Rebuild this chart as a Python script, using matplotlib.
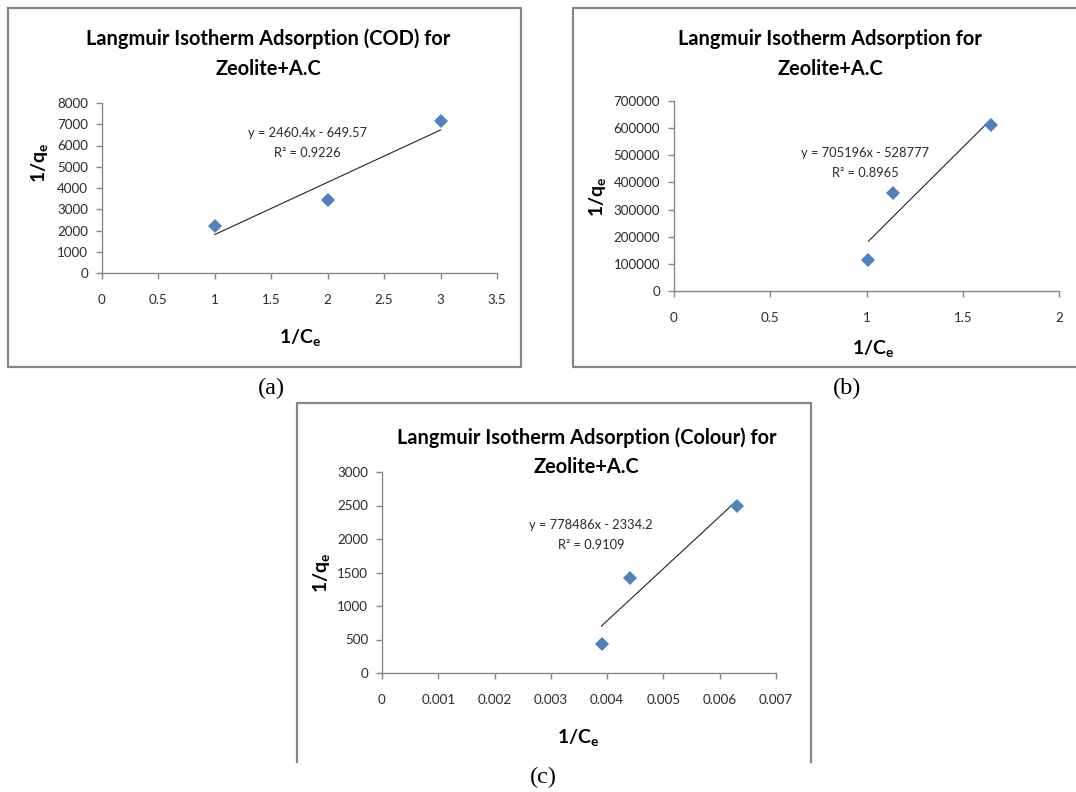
import numpy as np
import matplotlib.pyplot as plt
from matplotlib.lines import Line2D

W, H = 1076, 792

# 1/Ce and 1/qe for each adsorption run
cod_x = [1, 2, 3]
cod_y = [2222, 3448, 7143]
zac_x = [1.01, 1.14, 1.645]
zac_y = [115000, 362000, 610000]
colour_x = [0.0039, 0.0044, 0.0063]
colour_y = [430, 1420, 2500]

# linear trendlines: slope, intercept, R²
cod_fit = [2460.4, -649.57, 0.9226]
zac_fit = [705196, -528777, 0.8965]
colour_fit = [778486, -2334.2, 0.9109]

cod_xticks = [0, 0.5, 1, 1.5, 2, 2.5, 3, 3.5]
cod_yticks = [0, 1000, 2000, 3000, 4000, 5000, 6000, 7000, 8000]
zac_xticks = [0, 0.5, 1, 1.5, 2]
zac_yticks = [0, 100000, 200000, 300000, 400000, 500000, 600000, 700000]
colour_xticks = [0, 0.001, 0.002, 0.003, 0.004, 0.005, 0.006, 0.007]
colour_yticks = [0, 500, 1000, 1500, 2000, 2500, 3000]

plt.rcParams['font.family'] = ['Lato', 'DejaVu Sans']
plt.rcParams['mathtext.fontset'] = 'custom'
plt.rcParams['mathtext.rm'] = 'Lato'
plt.rcParams['mathtext.bf'] = 'Lato:bold'

fig = plt.figure(figsize=(W / 100, H / 100), dpi=100)

GREY = '#868686'
BLUE = '#4f81bd'


def fx(x):
    return x / W


def fy(y):
    return 1 - y / H


def frame(pts):
    xs = [fx(p[0]) for p in pts]
    ys = [fy(p[1]) for p in pts]
    fig.add_artist(Line2D(xs, ys, transform=fig.transFigure, color=GREY, lw=1.6))


def panel(left, right, bottom, top, xs, ys, fit, xticks, yticks, xpad, ypad):
    ax = fig.add_axes([fx(left), fy(bottom), (right - left) / W, (bottom - top) / H])
    ax.set_xlim(xticks[0], xticks[-1])
    ax.set_ylim(yticks[0], yticks[-1])
    ax.set_xticks(xticks)
    ax.set_yticks(yticks)
    ax.set_xticklabels(['{:g}'.format(t) for t in xticks])
    ax.set_yticklabels(['{:d}'.format(t) for t in yticks])
    for s in ['top', 'right']:
        ax.spines[s].set_visible(False)
    for s in ['left', 'bottom']:
        ax.spines[s].set_color(GREY)
        ax.spines[s].set_linewidth(1.0)
    ax.tick_params(axis='both', direction='out', length=4, width=1.0, color=GREY,
                   labelsize=9.6, labelcolor='#2a2a2a')
    ax.tick_params(axis='x', pad=xpad)
    ax.tick_params(axis='y', pad=ypad)
    ax.patch.set_alpha(0)

    m, c = fit[0], fit[1]
    lx = np.array([min(xs), max(xs)])
    ax.plot(lx, m * lx + c, color='#222222', lw=0.8, zorder=2, clip_on=False)
    ax.plot(xs, ys, 'D', color=BLUE, markersize=7.5, markeredgewidth=0, zorder=3, clip_on=False)
    return ax


def eq_text(x, y, fit):
    m, c, r2 = fit
    sign = '-' if c < 0 else '+'
    fig.text(fx(x), fy(y), 'y = {:g}x {} {:g}'.format(m, sign, abs(c)),
             ha='center', va='center', fontsize=9.3, color='#2a2a2a')
    fig.text(fx(x), fy(y + 20), 'R² = {:g}'.format(r2),
             ha='center', va='center', fontsize=9.3, color='#2a2a2a')


def titles(cx, y1, y2, line1):
    fig.text(fx(cx), fy(y1), line1, ha='center', va='center', fontsize=14.4, fontweight='bold')
    fig.text(fx(cx), fy(y2), 'Zeolite+A.C', ha='center', va='center', fontsize=14.4, fontweight='bold')


def axis_labels(xlx, xly, ylx, yly):
    fig.text(fx(xlx), fy(xly), r'$\mathbf{1/C_e}$', ha='center', va='center', fontsize=14)
    fig.text(fx(ylx), fy(yly), r'$\mathbf{1/q_e}$', ha='center', va='center', fontsize=14, rotation=90)


# (a) COD
frame([(8, 8), (521, 8), (521, 367), (8, 367), (8, 8)])
panel(102, 497, 273, 103, cod_x, cod_y, cod_fit, cod_xticks, cod_yticks, 11, 6)
titles(268, 39, 69, 'Langmuir Isotherm Adsorption (COD) for')
eq_text(307, 133, cod_fit)
axis_labels(300, 337, 40, 163)
fig.text(fx(271), fy(388), '(a)', ha='center', va='center', fontsize=17.5, family='Liberation Serif')

# (b)
frame([(1080, 8), (573, 8), (573, 367), (1080, 367)])
panel(674, 1059, 291, 101, zac_x, zac_y, zac_fit, zac_xticks, zac_yticks, 11, 6)
titles(830, 39, 69, 'Langmuir Isotherm Adsorption for')
eq_text(865, 153, zac_fit)
axis_labels(873, 348, 598, 197)
fig.text(fx(847), fy(388), '(b)', ha='center', va='center', fontsize=17.5, family='Liberation Serif')

# (c) colour
frame([(297, 762), (297, 403), (811, 403), (811, 762)])
panel(382, 776, 673, 472, colour_x, colour_y, colour_fit, colour_xticks, colour_yticks, 11, 6)
titles(587, 438, 467, 'Langmuir Isotherm Adsorption (Colour) for')
eq_text(591, 525, colour_fit)
axis_labels(578, 738, 322, 573)
fig.text(fx(543), fy(777), '(c)', ha='center', va='center', fontsize=17.5, family='Liberation Serif')

fig.savefig('out.png', dpi=100)
